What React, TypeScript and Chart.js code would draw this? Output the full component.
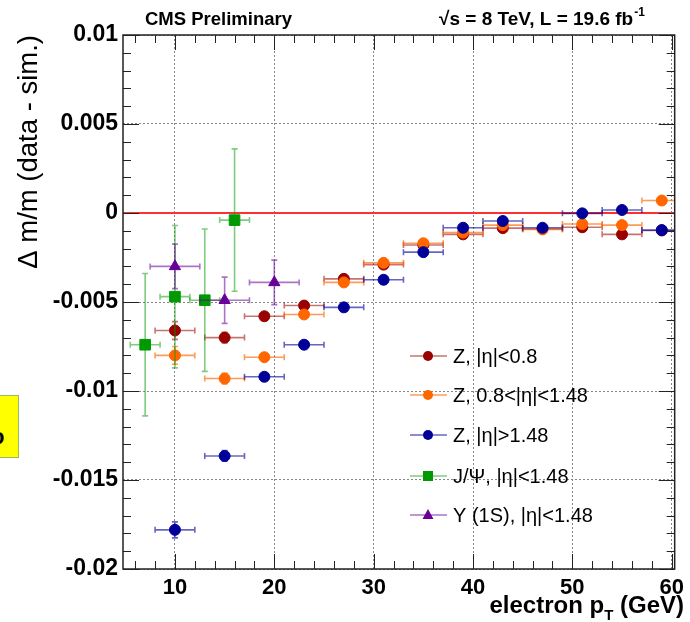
import React, { useEffect, useRef } from 'react';
import { Chart, registerables } from 'chart.js';

Chart.register(...registerables);

const FONT = '"Liberation Sans", Arial, Helvetica, sans-serif';

// axis ticks
const xTicks = [10, 20, 30, 40, 50, 60];
const xTickLabels = ['10', '20', '30', '40', '50', '60'];
const yTicks = [-0.02, -0.015, -0.01, -0.005, 0, 0.005, 0.01];
const yTickLabels = ['-0.02', '-0.015', '-0.01', '-0.005', '0', '0.005', '0.01'];

// Z -> ee bins (electron pT)
const zPt = [10, 15, 19, 23, 27, 31, 35, 39, 43, 47, 51, 55, 59];
const zPtErr = [2, 2, 2, 2, 2, 2, 2, 2, 2, 2, 2, 2, 2];

const zCentral = [-0.0066, -0.0070, -0.0058, -0.0052, -0.0037, -0.0029, -0.0018, -0.0012, -0.00085, -0.0009, -0.0008, -0.0012, -0.00098];
const zCentralErr = [0.0005, 0.0003, 0.0002, 0.0001, 0.0001, 0.0001, 0.0001, 0.0001, 0.0001, 0.0001, 0.0001, 0.0001, 0.0001];

const zMid = [-0.0080, -0.0093, -0.0081, -0.0057, -0.0039, -0.0028, -0.0017, -0.0011, -0.00068, -0.00092, -0.00062, -0.00068, 0.0007];
const zMidErr = [0.0005, 0.0003, 0.0002, 0.0001, 0.0001, 0.0001, 0.0001, 0.0001, 0.0001, 0.0001, 0.0001, 0.0001, 0.0001];

const zFwd = [-0.0178, -0.01365, -0.0092, -0.0074, -0.0053, -0.00375, -0.0022, -0.00083, -0.00045, -0.00083, -0.00002, 0.00017, -0.00096];
const zFwdErr = [0.00045, 0.0003, 0.0002, 0.0001, 0.0001, 0.0001, 0.0001, 0.0001, 0.0001, 0.0001, 0.0001, 0.0001, 0.0001];

// J/Psi
const jpsiPt = [7, 10, 13, 16];
const jpsiPtErr = [1.5, 1.5, 1.5, 1.5];
const jpsiVal = [-0.0074, -0.0047, -0.0049, -0.0004];
const jpsiErr = [0.004, 0.004, 0.004, 0.004];

// Upsilon(1S)
const upsPt = [10, 15, 20];
const upsPtErr = [2.5, 2.5, 2.5];
const upsVal = [-0.0030, -0.0049, -0.0039];
const upsErr = [0.00125, 0.0013, 0.00125];

const seriesLabels = ['Z, |η|<0.8', 'Z, 0.8<|η|<1.48', 'Z, |η|>1.48', 'J/Ψ, |η|<1.48', 'Υ (1S), |η|<1.48'];
const seriesColors = ['#990000', '#ff6600', '#000099', '#009900', '#660099'];
const seriesBarColors = ['rgba(153,0,0,0.55)', 'rgba(255,102,0,0.65)', 'rgba(0,0,153,0.6)', 'rgba(0,153,0,0.5)', 'rgba(102,0,153,0.55)'];
const seriesStyles = ['circle', 'circle', 'circle', 'rect', 'triangle'];

function pts(xs: number[], ys: number[]) {
  return xs.map((x, i) => ({ x, y: ys[i] }));
}

const errorBarPlugin = {
  id: 'errorBars',
  beforeDatasetDraw(chart: any, args: any) {
    const ds = chart.data.datasets[args.index];
    if (!ds.xErr) return;
    const { ctx, chartArea } = chart;
    const xs = chart.scales.x;
    const ys = chart.scales.y;
    ctx.save();
    ctx.beginPath();
    ctx.rect(chartArea.left, chartArea.top, chartArea.right - chartArea.left, chartArea.bottom - chartArea.top);
    ctx.clip();
    ctx.strokeStyle = ds.barColor;
    ctx.lineWidth = 1.6;
    const cap = 3;
    ds.data.forEach((p: any, i: number) => {
      const px = xs.getPixelForValue(p.x);
      const py = ys.getPixelForValue(p.y);
      const xl = xs.getPixelForValue(p.x - ds.xErr[i]);
      const xr = xs.getPixelForValue(p.x + ds.xErr[i]);
      const yt = ys.getPixelForValue(p.y + ds.yErr[i]);
      const yb = ys.getPixelForValue(p.y - ds.yErr[i]);
      ctx.beginPath();
      ctx.moveTo(xl, py); ctx.lineTo(xr, py);
      ctx.moveTo(xl, py - cap); ctx.lineTo(xl, py + cap);
      ctx.moveTo(xr, py - cap); ctx.lineTo(xr, py + cap);
      if (Math.abs(yb - yt) > 2) {
        ctx.moveTo(px, yt); ctx.lineTo(px, yb);
        ctx.moveTo(px - cap, yt); ctx.lineTo(px + cap, yt);
        ctx.moveTo(px - cap, yb); ctx.lineTo(px + cap, yb);
      }
      ctx.stroke();
    });
    ctx.restore();
  },
};

const framePlugin = {
  id: 'frame',
  beforeDatasetsDraw(chart: any) {
    const { ctx, chartArea } = chart;
    const ys = chart.scales.y;
    const y0 = ys.getPixelForValue(0);
    ctx.save();
    ctx.strokeStyle = '#ff3030';
    ctx.lineWidth = 2;
    ctx.beginPath();
    ctx.moveTo(chartArea.left, y0);
    ctx.lineTo(chartArea.right, y0);
    ctx.stroke();
    ctx.restore();
  },
  afterDatasetsDraw(chart: any) {
    const { ctx, chartArea } = chart;
    const { left, right, top, bottom } = chartArea;
    const xs = chart.scales.x;
    const ys = chart.scales.y;
    ctx.save();
    ctx.strokeStyle = '#222';
    ctx.lineWidth = 1;
    ctx.beginPath();
    // x ticks (minor every 2, major every 10)
    for (let v = 6; v <= 60; v += 2) {
      const px = Math.round(xs.getPixelForValue(v)) + 0.5;
      const len = v % 10 === 0 ? 15 : 8;
      ctx.moveTo(px, bottom); ctx.lineTo(px, bottom - len);
      ctx.moveTo(px, top); ctx.lineTo(px, top + len);
    }
    // y ticks (minor every 0.001, major every 0.005)
    for (let k = -20; k <= 10; k++) {
      const v = k / 1000;
      const py = Math.round(ys.getPixelForValue(v)) + 0.5;
      const len = k % 5 === 0 ? 16 : 8;
      ctx.moveTo(left, py); ctx.lineTo(left + len, py);
      ctx.moveTo(right, py); ctx.lineTo(right - len, py);
    }
    ctx.stroke();
    ctx.lineWidth = 1.5;
    ctx.strokeRect(left, top, right - left, bottom - top);
    ctx.restore();
  },
};

const textPlugin = {
  id: 'texts',
  afterDraw(chart: any) {
    const { ctx } = chart;
    ctx.save();
    ctx.fillStyle = '#000';
    ctx.textBaseline = 'alphabetic';
    // header
    ctx.font = `bold 18.5px ${FONT}`;
    ctx.textAlign = 'left';
    ctx.fillText('CMS Preliminary', 145, 25);
    ctx.font = `bold 19px ${FONT}`;
    let x = 439;
    ctx.fillText('√s = 8 TeV, L = 19.6 fb', x, 25);
    x += ctx.measureText('√s = 8 TeV, L = 19.6 fb').width;
    ctx.font = `bold 12px ${FONT}`;
    ctx.fillText('-1', x + 1, 16);

    // x title with subscript
    const big = `bold 24px ${FONT}`;
    const small = `bold 15px ${FONT}`;
    ctx.font = big;
    const w1 = ctx.measureText('electron p').width;
    const w3 = ctx.measureText(' (GeV)').width;
    ctx.font = small;
    const w2 = ctx.measureText('T').width;
    const xr = 684;
    let sx = xr - (w1 + w2 + w3);
    ctx.font = big;
    ctx.fillText('electron p', sx, 613);
    sx += w1;
    ctx.font = small;
    ctx.fillText('T', sx, 620);
    sx += w2;
    ctx.font = big;
    ctx.fillText(' (GeV)', sx, 613);

    // legend
    const rows = [356, 395, 435, 476, 515];
    chart.data.datasets.forEach((ds: any, i: number) => {
      const ry = rows[i];
      ctx.strokeStyle = ds.barColor;
      ctx.lineWidth = 1.5;
      ctx.beginPath();
      ctx.moveTo(410, ry); ctx.lineTo(447, ry);
      ctx.stroke();
      ctx.fillStyle = ds.backgroundColor;
      const mx = 428;
      ctx.beginPath();
      if (ds.pointStyle === 'rect') {
        ctx.rect(mx - 5, ry - 5, 10, 10);
      } else if (ds.pointStyle === 'triangle') {
        ctx.moveTo(mx, ry - 6);
        ctx.lineTo(mx + 5.5, ry + 4);
        ctx.lineTo(mx - 5.5, ry + 4);
        ctx.closePath();
      } else {
        ctx.arc(mx, ry, 5, 0, Math.PI * 2);
      }
      ctx.fill();
      ctx.fillStyle = '#000';
      ctx.font = `20px ${FONT}`;
      ctx.textBaseline = 'middle';
      ctx.fillText(ds.label, 453, ry + 1);
    });
    ctx.restore();
  },
};

export default function App() {
  const canvasRef = useRef<HTMLCanvasElement | null>(null);

  useEffect(() => {
    const canvas = canvasRef.current;
    if (!canvas) return;
    const data = [
      { xs: zPt, xe: zPtErr, ys: zCentral, ye: zCentralErr, r: 5.5 },
      { xs: zPt, xe: zPtErr, ys: zMid, ye: zMidErr, r: 5.5 },
      { xs: zPt, xe: zPtErr, ys: zFwd, ye: zFwdErr, r: 5.5 },
      { xs: jpsiPt, xe: jpsiPtErr, ys: jpsiVal, ye: jpsiErr, r: 7.5 },
      { xs: upsPt, xe: upsPtErr, ys: upsVal, ye: upsErr, r: 6.5 },
    ];
    const datasets = data.map((d, i) => ({
      label: seriesLabels[i],
      data: pts(d.xs, d.ys),
      xErr: d.xe,
      yErr: d.ye,
      barColor: seriesBarColors[i],
      backgroundColor: seriesColors[i],
      borderColor: seriesColors[i],
      borderWidth: 1,
      pointStyle: seriesStyles[i],
      pointRadius: d.r,
      showLine: false,
      order: 5 - i,
      clip: false as any,
    }));

    const chart = new Chart(canvas, {
      type: 'scatter',
      data: { datasets } as any,
      plugins: [errorBarPlugin, framePlugin, textPlugin],
      options: {
        animation: false,
        responsive: false,
        maintainAspectRatio: false,
        layout: { padding: { top: 35, right: 12, left: 0, bottom: 0 } },
        plugins: { legend: { display: false }, tooltip: { enabled: false } },
        scales: {
          x: {
            type: 'linear',
            min: 4.77,
            max: 60.3,
            afterBuildTicks: (scale: any) => {
              scale.ticks = xTicks.map((v) => ({ value: v }));
            },
            afterFit: (scale: any) => {
              scale.height = 53;
            },
            ticks: {
              color: '#000',
              font: { family: FONT, size: 22, weight: 'bold' },
              padding: 6,
              maxRotation: 0,
              autoSkip: false,
              callback: (_v: any, i: number) => xTickLabels[i],
            },
            grid: { color: '#888', lineWidth: 1, drawTicks: false },
            border: { display: false, dash: [2, 2] },
          },
          y: {
            type: 'linear',
            min: -0.02,
            max: 0.01,
            afterBuildTicks: (scale: any) => {
              scale.ticks = yTicks.map((v) => ({ value: v }));
            },
            afterFit: (scale: any) => {
              scale.width = 123;
            },
            ticks: {
              color: '#000',
              font: { family: FONT, size: 23, weight: 'bold' },
              padding: 5,
              autoSkip: false,
              callback: (_v: any, i: number) => yTickLabels[i],
            },
            grid: { color: '#888', lineWidth: 1, drawTicks: false },
            border: { display: false, dash: [2, 2] },
            title: {
              display: true,
              text: 'Δ m/m (data - sim.)',
              align: 'end',
              color: '#000',
              font: { family: FONT, size: 27.5 },
              padding: { top: 13, bottom: 0 },
            },
          },
        },
      } as any,
    });
    return () => chart.destroy();
  }, []);

  return (
    <div style={{ position: 'absolute', left: 0, top: 0, width: 690, height: 622, background: '#fff', overflow: 'hidden' }}>
      <canvas ref={canvasRef} width={690} height={622} style={{ display: 'block' }} />
      <div
        style={{
          position: 'absolute',
          left: 0,
          top: 395,
          width: 18,
          height: 61,
          background: '#ffff00',
          borderTop: '1.5px solid #9bbb59',
          borderRight: '1.5px solid #9bbb59',
          borderBottom: '1.5px solid #9bbb59',
          overflow: 'hidden',
        }}
      >
        <span
          style={{
            position: 'absolute',
            left: -9,
            top: 30,
            fontFamily: FONT,
            fontWeight: 'bold',
            fontSize: 22,
            lineHeight: '22px',
            color: '#000',
          }}
        >
          o
        </span>
      </div>
    </div>
  );
}
